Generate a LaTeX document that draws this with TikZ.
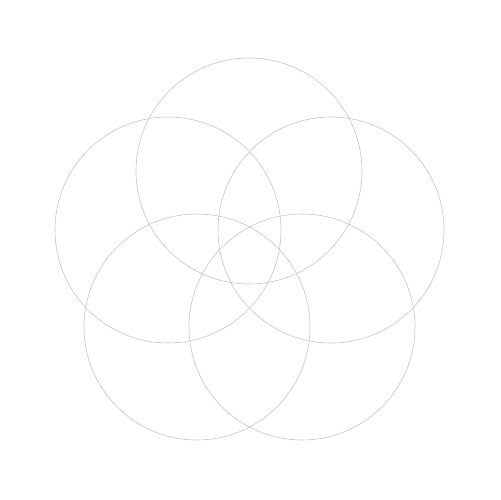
\documentclass[tikz,border=0pt]{standalone}
\begin{document}
\begin{tikzpicture}[x=0.02cm,y=-0.02cm,
  petal/.style={draw=black!22,line width=0.35pt}]
\useasboundingbox (0,0) rectangle (500,500);
\draw[petal] (249,171) circle (113);
\draw[petal] (168,230) circle (113);
\draw[petal] (331,230) circle (113);
\draw[petal] (197,327) circle (113);
\draw[petal] (302,327) circle (113);
\end{tikzpicture}
\end{document}
